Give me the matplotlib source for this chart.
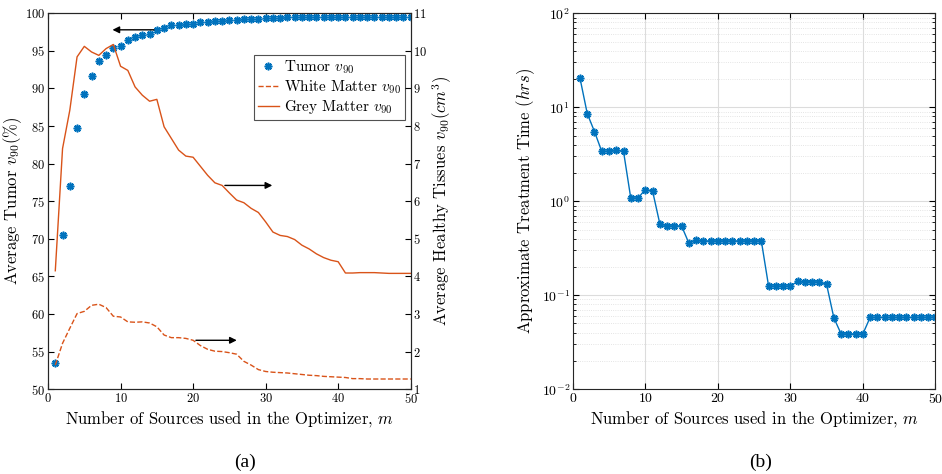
import matplotlib.pyplot as plt
import numpy as np

# values
m = np.arange(1, 51)

tumor = [53.5, 70.5, 77.0, 84.7, 89.3, 91.6, 93.6, 94.5, 95.35, 95.6,
         96.5, 96.9, 97.1, 97.2, 97.8, 98.1, 98.4, 98.45, 98.6, 98.6,
         98.8, 98.9, 99.0, 99.0, 99.1, 99.15, 99.2, 99.25, 99.3, 99.35,
         99.4, 99.42, 99.45, 99.47, 99.48, 99.5, 99.5, 99.5, 99.52, 99.52,
         99.53, 99.53, 99.54, 99.54, 99.55, 99.55, 99.55, 99.56, 99.56, 99.56]

white = [1.64, 2.22, 2.62, 3.01, 3.07, 3.23, 3.26, 3.17, 2.94, 2.92,
         2.79, 2.78, 2.79, 2.76, 2.66, 2.44, 2.37, 2.37, 2.35, 2.30,
         2.16, 2.06, 2.01, 2.00, 1.97, 1.93, 1.74, 1.64, 1.52, 1.47,
         1.45, 1.44, 1.43, 1.41, 1.39, 1.37, 1.36, 1.34, 1.33, 1.32,
         1.31, 1.28, 1.28, 1.27, 1.27, 1.27, 1.27, 1.27, 1.27, 1.27]

grey = [4.15, 7.40, 8.42, 9.84, 10.12, 9.97, 9.88, 10.06, 10.17, 9.59,
        9.48, 9.04, 8.82, 8.66, 8.71, 7.98, 7.67, 7.36, 7.20, 7.17,
        6.93, 6.69, 6.49, 6.42, 6.22, 6.03, 5.96, 5.81, 5.70, 5.45,
        5.18, 5.09, 5.06, 4.98, 4.83, 4.73, 4.60, 4.50, 4.43, 4.39,
        4.09, 4.09, 4.10, 4.10, 4.10, 4.09, 4.08, 4.08, 4.08, 4.08]

treat_time = [20.4, 8.57, 5.5, 3.39, 3.42, 3.5, 3.39, 1.08, 1.08, 1.33,
              1.29, 0.578, 0.546, 0.546, 0.546, 0.36, 0.387, 0.378, 0.378, 0.378,
              0.378, 0.378, 0.378, 0.378, 0.378, 0.378, 0.125, 0.125, 0.125, 0.125,
              0.140, 0.139, 0.139, 0.138, 0.130, 0.0574, 0.0387, 0.0387, 0.0387, 0.0387,
              0.058, 0.058, 0.058, 0.058, 0.058, 0.058, 0.058, 0.058, 0.058, 0.058]

blue = '#0072BD'
orange = '#D95319'
star = (8, 2, 0)  # matlab-like asterisk

plt.rcParams['font.family'] = 'cmr10'
plt.rcParams['mathtext.fontset'] = 'cm'
plt.rcParams['axes.formatter.use_mathtext'] = True
plt.rcParams['font.size'] = 9.5
plt.rcParams['axes.linewidth'] = 0.8
plt.rcParams['axes.edgecolor'] = '#262626'
plt.rcParams['xtick.direction'] = 'in'
plt.rcParams['ytick.direction'] = 'in'

fig = plt.figure(figsize=(9.42, 4.74), dpi=100)

# ---- (a) ----
ax = fig.add_axes([0.051, 0.179, 0.385, 0.793])
ax2 = ax.twinx()
h1, = ax.plot(m, tumor, linestyle='none', marker=star, color=blue, markersize=5.5,
              markeredgewidth=1.2, label=r'Tumor $v_{90}$')
h2, = ax2.plot(m, white, '--', color=orange, lw=1, label=r'White Matter $v_{90}$')
h3, = ax2.plot(m, grey, '-', color=orange, lw=1, label=r'Grey Matter $v_{90}$')

ax.set_xlim(0, 50)
ax.set_ylim(50, 100)
ax.set_xticks(range(0, 51, 10))
ax.set_yticks(range(50, 101, 5))
ax2.set_ylim(1, 11)
ax2.set_yticks(range(1, 12))
ax.tick_params(top=True, length=4, pad=2, labelsize=9)
ax2.tick_params(length=4, pad=2, labelsize=9)
ax.set_xlabel(r'Number of Sources used in the Optimizer, $m$', fontsize=12, labelpad=2)
ax.set_ylabel(r'Average Tumor $v_{90}(\%)$', fontsize=12, labelpad=1)
ax2.set_ylabel(r'Average Healthy Tissues $v_{90}(cm^3)$', fontsize=12, labelpad=2)

leg = ax.legend(handles=[h1, h2, h3], loc='upper right', bbox_to_anchor=(0.983, 0.89),
                fontsize=11, frameon=True, fancybox=False, edgecolor='#262626',
                handlelength=1.4, handletextpad=0.3, borderpad=0.25, labelspacing=0.15,
                borderaxespad=0)
leg.get_frame().set_linewidth(0.8)

arrow = dict(arrowstyle='-|>', color='black', lw=1, mutation_scale=10)
ax.annotate('', xy=(8.5, 97.8), xytext=(15, 97.8), arrowprops=arrow)
ax2.annotate('', xy=(31.3, 6.42), xytext=(24, 6.42), arrowprops=arrow)
ax2.annotate('', xy=(26.4, 2.3), xytext=(20, 2.3), arrowprops=arrow)

# ---- (b) ----
bx = fig.add_axes([0.608, 0.179, 0.385, 0.793])
bx.semilogy(m, treat_time, '-', color=blue, lw=1, marker=star, markersize=5.5,
            markeredgewidth=1.2)
bx.set_xlim(0, 50)
bx.set_ylim(1e-2, 1e2)
bx.set_xticks(range(0, 51, 10))
bx.grid(True, which='major', color='#dcdcdc', lw=0.8)
bx.grid(True, which='minor', axis='y', color='#dcdcdc', lw=0.6, linestyle=':')
bx.tick_params(top=True, right=True, length=4, pad=2, labelsize=10)
bx.tick_params(which='minor', top=True, right=True, length=2)
bx.set_xlabel(r'Number of Sources used in the Optimizer, $m$', fontsize=12, labelpad=2)
bx.set_ylabel(r'Approximate Treatment Time $(hrs)$', fontsize=12, labelpad=3)

fig.text(0.26, 0.015, '(a)', fontsize=14, family='Liberation Serif', ha='center')
fig.text(0.807, 0.015, '(b)', fontsize=14, family='Liberation Serif', ha='center')

fig.savefig('out.png', dpi=100)
